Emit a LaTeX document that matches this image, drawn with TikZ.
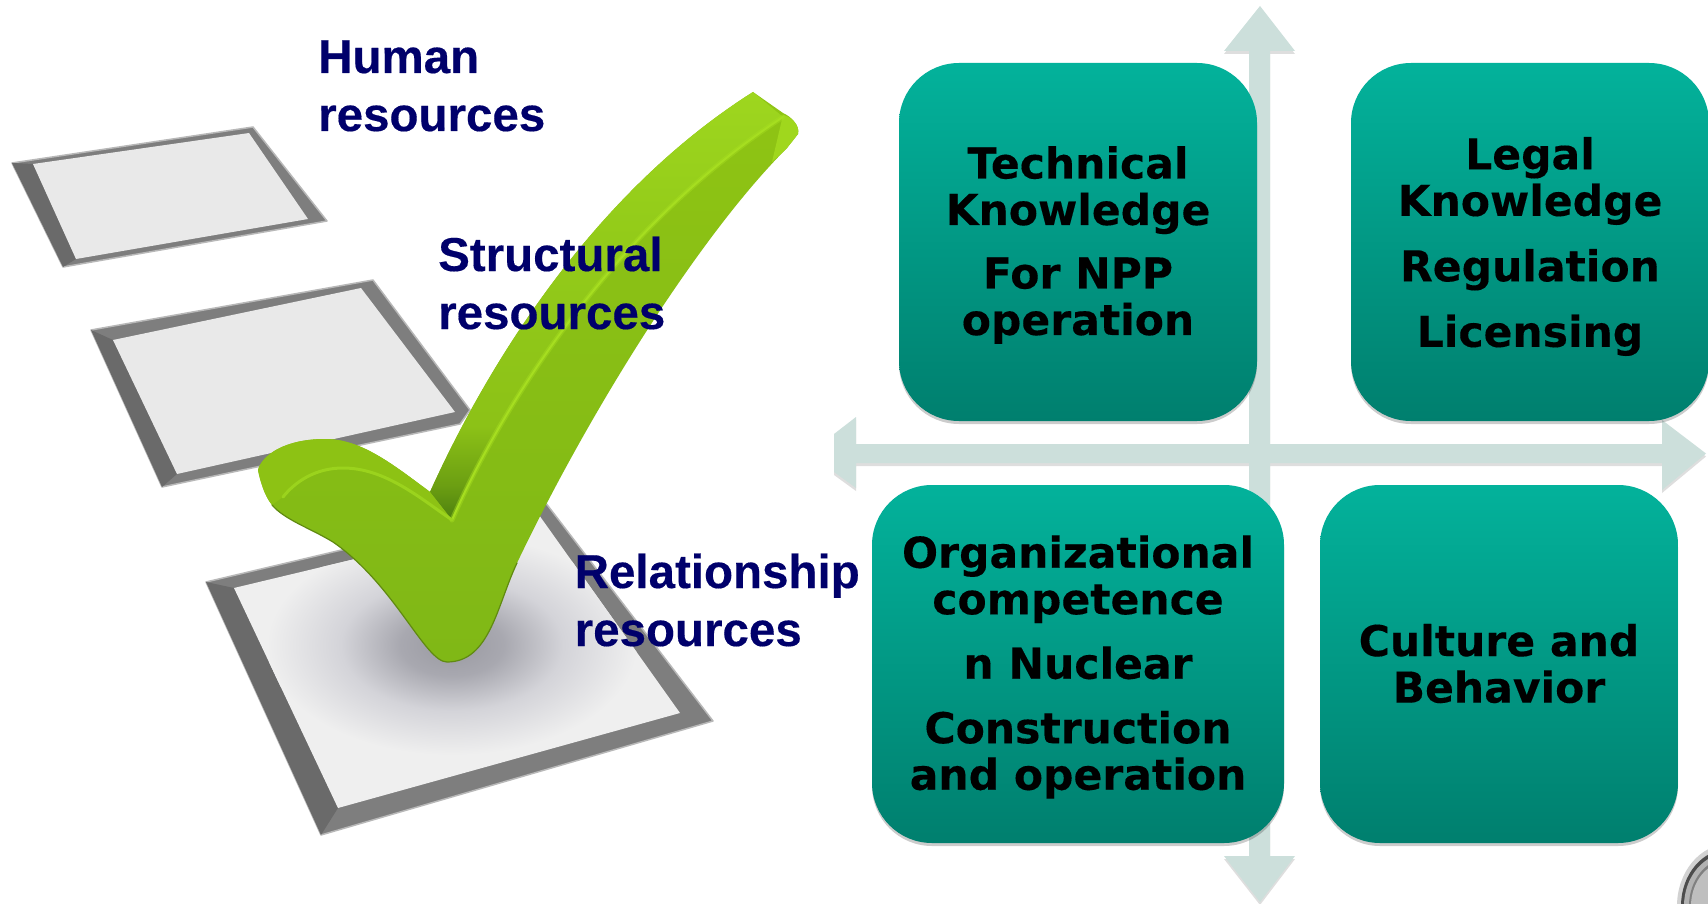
\documentclass[tikz,border=0pt]{standalone}
\usepackage{fontspec}
\setmainfont[BoldFeatures={FakeBold=0.35}]{Liberation Sans}
\newfontfamily\boxfont[BoldFeatures={FakeBold=0.25}]{DejaVu Sans}
\usetikzlibrary{shadows}
\definecolor{axiscol}{HTML}{CCDFDB}
\definecolor{boxtop}{HTML}{03B29B}
\definecolor{boxbot}{HTML}{007F6E}
\definecolor{labelcol}{HTML}{00006B}
\definecolor{framecol}{HTML}{7E7E7E}
\definecolor{framedark}{HTML}{6A6A6A}
\definecolor{papercol}{HTML}{E9E9E9}
\definecolor{paperlight}{HTML}{EFEFEF}
\definecolor{ridgecol}{HTML}{A6DE20}
\definecolor{fronttop}{HTML}{8FC414}
\definecolor{frontbot}{HTML}{80B816}
\pgfdeclareradialshading{checkshadow}{\pgfpoint{0bp}{0bp}}{rgb(0bp)=(.60,.60,.63);rgb(7bp)=(.66,.66,.69);rgb(15bp)=(.83,.83,.85);rgb(25bp)=(.937,.937,.937);rgb(50bp)=(.937,.937,.937)}
\pgfdeclareverticalshading{backface}{100bp}{rgb(0bp)=(.30,.50,.06);rgb(25bp)=(.30,.50,.06);rgb(29bp)=(.42,.62,.07);rgb(36bp)=(.55,.76,.09);rgb(60bp)=(.58,.80,.10);rgb(75bp)=(.62,.84,.12);rgb(100bp)=(.62,.84,.12)}
\tikzset{
  box/.style={minimum width=358pt,minimum height=358pt,rounded corners=60pt,
    top color=boxtop,bottom color=boxbot,draw=none,inner sep=0pt,
    drop shadow={shadow xshift=0pt,shadow yshift=-3pt,opacity=.2,fill=black}},
  boxtext/.style={align=center,font=\boxfont\fontsize{42.5}{46.5}\selectfont\bfseries,text=black,inner sep=0pt},
  restext/.style={align=left,font=\fontsize{47.5}{58}\selectfont\bfseries,text=labelcol,inner sep=0pt},
  axisfill/.style={fill=axiscol},
  axisshadow/.style={fill=black,opacity=.13},
  frame/.style={fill=framecol,draw=framecol!55,line width=1.5pt,line join=round},
  paper/.style={fill=papercol},
}
\begin{document}
\begin{tikzpicture}[x=1pt,y=-1pt]
\useasboundingbox (0,0) rectangle (1708,904);
\clip (0,0) rectangle (1708,904);
\fill[white] (0,0) rectangle (1708,904);

% axes
\foreach \dy/\sty in {3/axisshadow,0/axisfill}{
  \path[\sty,yshift=-\dy pt]
    (1260,6) -- (1295,51) -- (1270,51) -- (1270,444) -- (1662,444) -- (1662,420) -- (1706,453.5)
    -- (1662,490) -- (1662,463) -- (1270,463) -- (1270,856) -- (1295,856) -- (1260,902) -- (1224,856)
    -- (1249,856) -- (1249,463) -- (856,463) -- (856,488) -- (834,472) -- (834,434) -- (856,417)
    -- (856,444) -- (1249,444) -- (1249,51) -- (1224,51) -- cycle;
}

% boxes
\node[box] (tl) at (1078,242) {};
\node[box] (tr) at (1530,242) {};
\node[box,minimum width=412pt] (bl) at (1078,664) {};
\node[box] (br) at (1499,664) {};

\node[boxtext] (tltext) at (1078,245) {Technical\\Knowledge\\[17pt]For NPP\\operation};
\node[boxtext] (trtext) at (1530,246.5) {Legal\\Knowledge\\[19pt]Regulation\\[19pt]Licensing};
\node[boxtext] (bltext) at (1078,667) {Organizational\\competence\\[18pt]n Nuclear\\[18pt]Construction\\and operation};
\node[boxtext] (brtext) at (1499,663.5) {Culture and\\Behavior};

% corner object
\begin{scope}
  \fill[gray!35] (1729,906) ellipse [x radius=52,y radius=62];
  \fill[black!70] (1729,906) ellipse [x radius=48,y radius=57];
  \fill[gray!60] (1729,906) ellipse [x radius=45,y radius=53];
  \fill[black!50] (1729,906) ellipse [x radius=40,y radius=48];
  \fill[gray!50] (1729,906) ellipse [x radius=38,y radius=45];
\end{scope}

% check boxes
\fill[frame] (12,163) -- (253,127) -- (327,221) -- (63,267) -- cycle;
\fill[framedark] (12,163) -- (33,164) -- (76,259) -- (63,267) -- cycle;
\fill[paper] (33,164) -- (249,133) -- (308,219) -- (76,259) -- cycle;

\fill[frame] (91,330) -- (373,280) -- (470,410) -- (460,424) -- (162,487) -- cycle;
\fill[framedark] (91,330) -- (113,340) -- (177,474) -- (162,487) -- cycle;
\fill[paper] (113,340) -- (361,288) -- (455,412) -- (177,474) -- cycle;

\fill[frame] (206,582) -- (545,502) -- (713,721) -- (321,835) -- cycle;
\fill[framedark] (206,582) -- (234,588) -- (338,808) -- (321,835) -- cycle;
\fill[paperlight] (234,588) -- (539,515) -- (680,713) -- (338,808) -- cycle;
\begin{scope}
  \clip (234,588) -- (539,515) -- (680,713) -- (338,808) -- cycle;
  \shade[shading=checkshadow] (452,645) ellipse [x radius=185,y radius=110];
\end{scope}

% check mark: silhouette and front face
\shade[top color=fronttop,bottom color=frontbot]
  (753,92) -- (783,113) .. controls (792,117) and (800,126) .. (798,134)
  -- (787,148) .. controls (700,235) and (590,410) .. (517,563)
  .. controls (497,605) and (490,662) .. (447,662)
  .. controls (425,662) and (395,585) .. (333,542)
  .. controls (310,528) and (285,520) .. (272,505)
  .. controls (264,495) and (260,480) .. (258,470)
  .. controls (262,455) and (285,439) .. (325,439)
  .. controls (360,439) and (390,462) .. (430,492)
  .. controls (485,370) and (590,195) .. (753,92) -- cycle;
% back face of the long arm
\shade[shading=backface]
  (430,492) .. controls (485,370) and (590,195) .. (753,92) -- (783,117)
  .. controls (610,230) and (500,410) .. (452,520) -- cycle;
% top of the short arm
\fill[fronttop!85!frontbot]
  (258,470) .. controls (262,455) and (285,439) .. (325,439)
  .. controls (360,439) and (390,462) .. (430,492) -- (452,520)
  .. controls (420,498) and (385,468) .. (343,468)
  .. controls (315,468) and (295,482) .. (283,497)
  -- (272,505) .. controls (264,495) and (260,480) .. (258,470) -- cycle;
% end of the long arm
\fill[ridgecol!75!fronttop] (783,115) .. controls (792,117) and (800,126) .. (798,134) -- (787,148) -- (772,162) -- cycle;
% ridges
\draw[ridgecol,opacity=.45,line width=5pt,line cap=round]
  (783,117) .. controls (610,230) and (500,410) .. (452,520);
\draw[ridgecol,line width=2pt,line cap=round]
  (783,117) .. controls (610,230) and (500,410) .. (452,520);
\draw[ridgecol!70!frontbot,line width=3pt,line cap=round]
  (452,520) .. controls (420,498) and (385,468) .. (343,468)
  .. controls (315,468) and (295,482) .. (283,497);
% darker lower edge
\draw[frontbot!75!black,line width=1.2pt,line cap=round]
  (272,505) .. controls (285,520) and (310,528) .. (333,542)
  .. controls (395,585) and (425,662) .. (447,662)
  .. controls (490,662) and (497,605) .. (517,563);

% labels
\node[restext,anchor=base west] (human) at (318,131) {Human\\resources};
\node[restext,anchor=base west] (struct) at (438,329) {Structural\\resources};
\node[restext,anchor=base west] (relation) at (574.5,646) {Relationship\\resources};
\end{tikzpicture}
\end{document}
